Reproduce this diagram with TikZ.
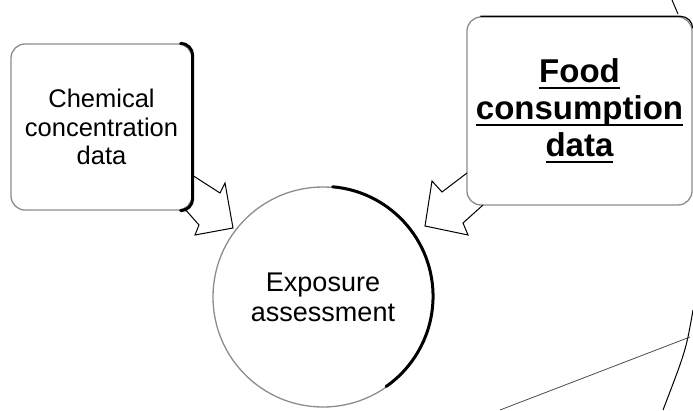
\documentclass[tikz,border=0pt]{standalone}
\usepackage{fontspec}
\setmainfont{Liberation Sans}

\newcommand{\ulword}[1]{\setbox0\hbox{#1}\rlap{\vrule height -5pt depth 7pt width \wd0}\box0}

\tikzset{
	softbox/.style={draw=black!45, line width=1.3pt, rounded corners=14pt, fill=white, align=center, inner sep=0pt},
	blockarrow/.style={draw, line width=1pt, line join=miter},
	shadowline/.style={line width=3pt, line cap=round},
}

\begin{document}
\begin{tikzpicture}[x=1pt,y=1pt]
				\useasboundingbox (0,0) rectangle (693,410);
				\node[softbox, minimum width=181pt, minimum height=166pt, font=\fontsize{25.5}{28.5}\selectfont](chem) at (101.5,283) {Chemical\\ concentration\\ data};
				\node[softbox, minimum width=225pt, minimum height=188pt, font=\bfseries\fontsize{33}{37}\selectfont](food) at (579.5,299) {\ulword{Food}\\ \ulword{consumption}\\ \ulword{data}};
				\node[circle, draw=black!45, line width=1.3pt, minimum size=220pt, inner sep=0pt, align=center, font=\fontsize{27}{30}\selectfont](expo) at (323,113) {Exposure\\ assessment};

				\draw[shadowline] ([xshift=-12pt]chem.north east) to[out=0,in=90] ([yshift=-12pt]chem.north east) -- ([yshift=12pt]chem.south east) to[out=-90,in=0] ([xshift=-12pt]chem.south east);
				\draw[line width=1.2pt] ([xshift=14pt]food.north west) -- ([xshift=-12pt]food.north east) to[out=0,in=90] ([yshift=-12pt]food.north east);
				\draw[shadowline] (expo.85) arc[start angle=85, end angle=-55, radius=110pt];

				\draw[blockarrow] (192,235) -- (220,217) -- (225,227) -- (233,182) -- (195,175) -- (199,185) -- (184,202);
				\draw[blockarrow] (467,237) -- (442,218) -- (432,229) -- (425,184) -- (468,175) -- (463,187) -- (483,205);

				\draw[line width=1pt] (672,410) -- (678,396);
				\draw[line width=1pt] (693,100) .. controls (686,60) .. (663,0);
				\draw[black!70, line width=0.8pt] (500,0) -- (690,73);
			\end{tikzpicture}
\end{document}
